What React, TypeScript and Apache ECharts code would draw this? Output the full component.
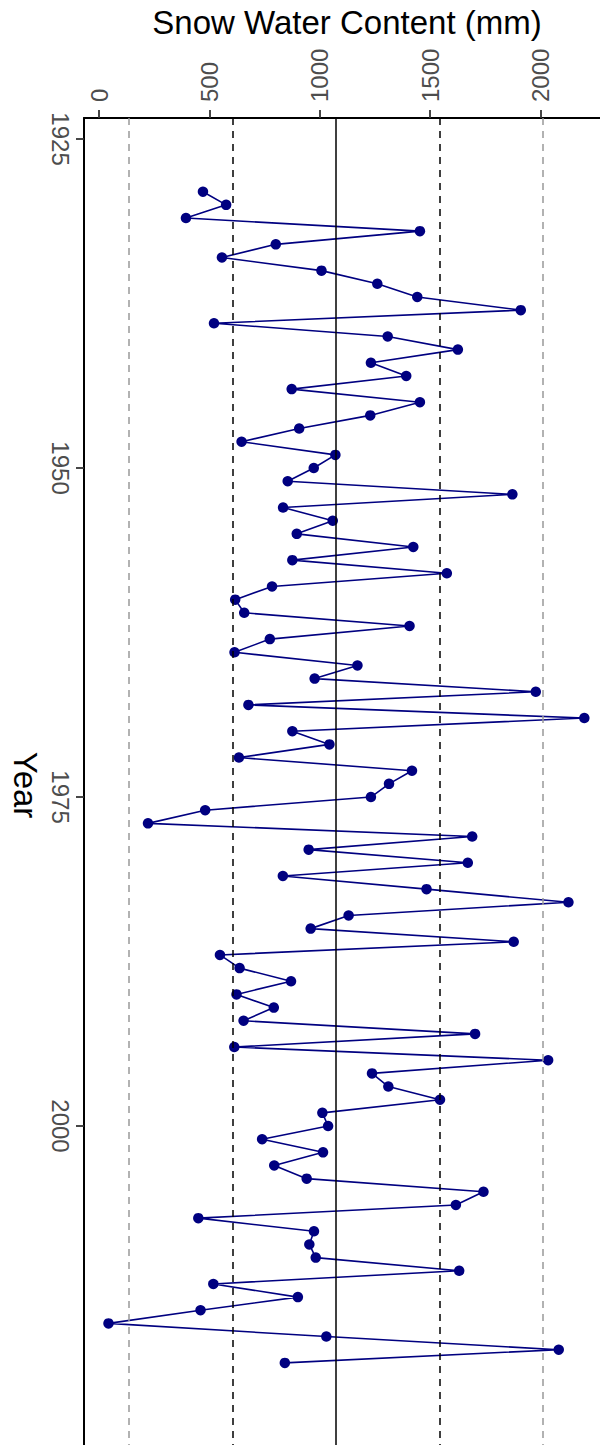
import React, { useEffect, useRef } from "react";
import * as echarts from "echarts";

const years = [
  1929, 1930, 1931, 1932, 1933, 1934, 1935, 1936, 1937, 1938,
  1939, 1940, 1941, 1942, 1943, 1944, 1945, 1946, 1947, 1948,
  1949, 1950, 1951, 1952, 1953, 1954, 1955, 1956, 1957, 1958,
  1959, 1960, 1961, 1962, 1963, 1964, 1965, 1966, 1967, 1968,
  1969, 1970, 1971, 1972, 1973, 1974, 1975, 1976, 1977, 1978,
  1979, 1980, 1981, 1982, 1983, 1984, 1985, 1986, 1987, 1988,
  1989, 1990, 1991, 1992, 1993, 1994, 1995, 1996, 1997, 1998,
  1999, 2000, 2001, 2002, 2003, 2004, 2005, 2006, 2007, 2008,
  2009, 2010, 2011, 2012, 2013, 2014, 2015, 2016, 2017, 2018,
];

const swe = [
  471, 576, 394, 1454, 801, 557, 1008, 1261, 1442, 1911,
  521, 1308, 1626, 1232, 1392, 873, 1454, 1229, 907, 646,
  1071, 973, 855, 1873, 834, 1059, 896, 1424, 876, 1576,
  784, 617, 658, 1407, 774, 614, 1171, 977, 1979, 677,
  2199, 876, 1044, 634, 1418, 1314, 1232, 481, 222, 1691,
  950, 1671, 833, 1484, 2127, 1131, 959, 1879, 548, 637,
  870, 623, 792, 655, 1704, 613, 2035, 1237, 1311, 1545,
  1012, 1038, 739, 1015, 794, 941, 1742, 1617, 450, 974,
  953, 982, 1632, 518, 901, 460, 43, 1030, 2083, 842,
];

const sweTicks = [0, 500, 1000, 1500, 2000];
const yearTicks = [1925, 1950, 1975, 2000];
const meanLine = [1074];
const sdLines = [605, 1543];
const twoSdLines = [136, 2012];

const xTitle = "Snow Water Content (mm)";
const yTitle = "Year";

export default function App() {
  const ref = useRef<HTMLDivElement>(null);

  useEffect(() => {
    document.body.style.margin = "0";
    const chart = echarts.init(ref.current!, null, { renderer: "svg" });
    const font = "'Liberation Sans', Arial, Helvetica, sans-serif";

    const markData = [
      ...twoSdLines.map((v) => ({
        xAxis: v,
        lineStyle: { color: "#999999", width: 1.5, type: [7, 6] },
      })),
      ...sdLines.map((v) => ({
        xAxis: v,
        lineStyle: { color: "#000000", width: 1.5, type: [7, 6] },
      })),
      ...meanLine.map((v) => ({
        xAxis: v,
        lineStyle: { color: "#000000", width: 1.5, type: "solid" },
      })),
    ];

    chart.setOption({
      animation: false,
      grid: { left: 84, top: 118, right: 0, bottom: 0, containLabel: false },
      xAxis: {
        type: "value",
        position: "top",
        min: -68,
        max: 2270,
        axisLine: { show: true, onZero: false, lineStyle: { color: "#000", width: 2 } },
        axisTick: {
          show: true,
          length: 8,
          customValues: sweTicks,
          lineStyle: { color: "#333", width: 1.8 },
        },
        axisLabel: {
          customValues: sweTicks,
          formatter: (v: number) => String(v),
          rotate: -90,
          margin: 16,
          fontSize: 24,
          color: "#4d4d4d",
          fontFamily: font,
        },
        splitLine: { show: false },
      },
      yAxis: {
        type: "value",
        inverse: true,
        min: 1923.4,
        max: 2024.24,
        axisLine: { show: true, onZero: false, lineStyle: { color: "#000", width: 2 } },
        axisTick: {
          show: true,
          length: 8,
          customValues: yearTicks,
          lineStyle: { color: "#333", width: 1.8 },
        },
        axisLabel: {
          customValues: yearTicks,
          formatter: (v: number) => String(v),
          rotate: -90,
          margin: 12,
          fontSize: 24,
          color: "#4d4d4d",
          fontFamily: font,
        },
        splitLine: { show: false },
      },
      series: [
        {
          type: "line",
          data: years.map((y, i) => [swe[i], y]),
          symbol: "circle",
          symbolSize: 10.5,
          showSymbol: true,
          itemStyle: { color: "#000080" },
          lineStyle: { color: "#000080", width: 1.6 },
          markLine: {
            silent: true,
            symbol: ["none", "none"],
            label: { show: false },
            data: markData,
          },
          z: 3,
        },
      ],
      graphic: [
        {
          type: "text",
          x: 347,
          y: 22,
          style: {
            text: xTitle,
            fontSize: 33,
            fontFamily: font,
            fill: "#000",
            textAlign: "center",
            textVerticalAlign: "middle",
          },
        },
        {
          type: "text",
          x: 25,
          y: 785,
          rotation: -Math.PI / 2,
          style: {
            text: yTitle,
            fontSize: 33,
            fontFamily: font,
            fill: "#000",
            textAlign: "center",
            textVerticalAlign: "middle",
          },
        },
      ],
    });

    return () => chart.dispose();
  }, []);

  return <div ref={ref} style={{ width: 600, height: 1445 }} />;
}
